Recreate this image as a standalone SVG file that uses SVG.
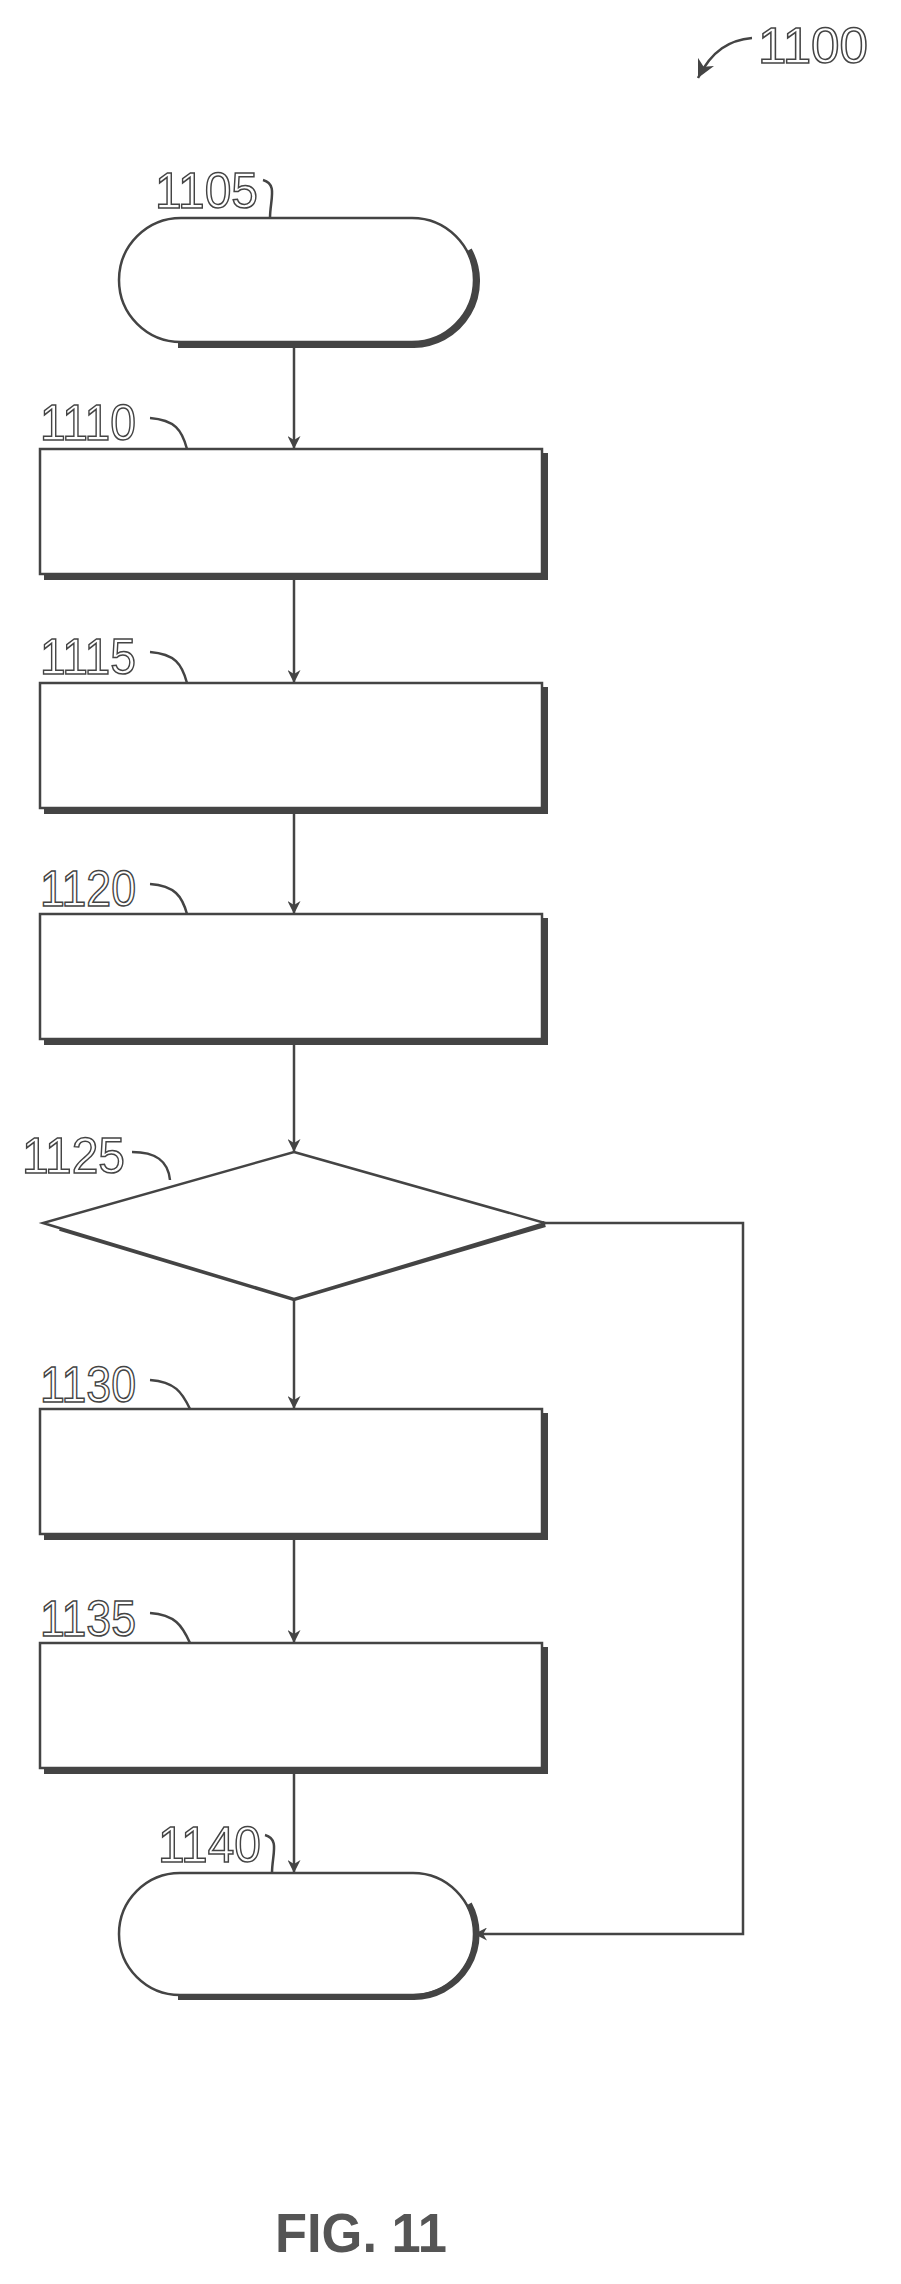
<svg xmlns="http://www.w3.org/2000/svg" width="901" height="2284" viewBox="0 0 901 2284">
<style>
.s{fill:#fff;stroke:#444;stroke-width:2.5}
.sh{fill:none;stroke:#444;stroke-width:6}
.c{fill:none;stroke:#444;stroke-width:2.5}
.t{font-family:"Liberation Sans",Arial,sans-serif;font-size:50px;fill:#fff;stroke:#444;stroke-width:1.5}
.f{font-family:"Liberation Sans",Arial,sans-serif;font-size:56px;font-weight:bold;fill:#555}
</style>
<defs>
<marker id="a" viewBox="0 0 10 10" refX="10" refY="5" markerWidth="13" markerHeight="13" orient="auto" markerUnits="userSpaceOnUse"><path d="M0,0L10,5L0,10L3,5Z" fill="#444"/></marker>
<marker id="b" viewBox="0 0 10 10" refX="10" refY="5" markerWidth="18" markerHeight="18" orient="auto" markerUnits="userSpaceOnUse"><path d="M0,0L10,5L0,10L3,5Z" fill="#444"/></marker>
</defs>
<rect width="901" height="2284" fill="#fff"/>
<g id="ref1100"><text class="t" x="758" y="63" textLength="110" lengthAdjust="spacingAndGlyphs">1100</text><path class="c" d="M752,38 C730,40 712,50 698,78" marker-end="url(#b)"/></g>
<g id="n1105"><rect class="s" x="119" y="218" width="355" height="124" rx="62"/><path class="sh" d="M469,250 A64,64 0 0 1 414,345 L178,345"/><text class="t" x="155" y="208" textLength="103" lengthAdjust="spacingAndGlyphs">1105</text><path class="c" d="M263,180 C278,184 270,200 270,218"/></g>
<g id="n1110"><path class="sh" d="M545,453 L545,577 L44,577"/><rect class="s" x="40" y="449" width="502" height="125"/><text class="t" x="40" y="440" textLength="96" lengthAdjust="spacingAndGlyphs">1110</text><path class="c" d="M150,418 C175,420 182,430 187,449"/></g>
<g id="n1115"><path class="sh" d="M545,687 L545,811 L44,811"/><rect class="s" x="40" y="683" width="502" height="125"/><text class="t" x="40" y="674" textLength="96" lengthAdjust="spacingAndGlyphs">1115</text><path class="c" d="M150,652 C175,654 182,664 187,683"/></g>
<g id="n1120"><path class="sh" d="M545,918 L545,1042 L44,1042"/><rect class="s" x="40" y="914" width="502" height="125"/><text class="t" x="40" y="906" textLength="96" lengthAdjust="spacingAndGlyphs">1120</text><path class="c" d="M150,884 C175,886 182,896 187,914"/></g>
<g id="n1125"><path class="sh" d="M545,1224 L294,1298 L60,1228"/><polygon class="s" points="294,1152 545,1223 294,1299 43,1223"/><text class="t" x="22" y="1173" textLength="103" lengthAdjust="spacingAndGlyphs">1125</text><path class="c" d="M132,1152 C155,1152 168,1160 170,1180"/></g>
<g id="n1130"><path class="sh" d="M545,1413 L545,1537 L44,1537"/><rect class="s" x="40" y="1409" width="502" height="125"/><text class="t" x="40" y="1402" textLength="96" lengthAdjust="spacingAndGlyphs">1130</text><path class="c" d="M150,1380 C175,1382 182,1392 190,1409"/></g>
<g id="n1135"><path class="sh" d="M545,1647 L545,1771 L44,1771"/><rect class="s" x="40" y="1643" width="502" height="125"/><text class="t" x="40" y="1636" textLength="96" lengthAdjust="spacingAndGlyphs">1135</text><path class="c" d="M150,1613 C175,1615 182,1625 190,1643"/></g>
<g id="n1140"><rect class="s" x="119" y="1873" width="355" height="122" rx="61"/><path class="sh" d="M469,1904 A63,63 0 0 1 414,1997 L178,1997"/><text class="t" x="158" y="1862" textLength="103" lengthAdjust="spacingAndGlyphs">1140</text><path class="c" d="M265,1835 C280,1839 272,1855 272,1873"/></g>
<g id="connectors">
<path class="c" d="M294,342 L294,449" marker-end="url(#a)"/>
<path class="c" d="M294,577 L294,683" marker-end="url(#a)"/>
<path class="c" d="M294,811 L294,914" marker-end="url(#a)"/>
<path class="c" d="M294,1042 L294,1152" marker-end="url(#a)"/>
<path class="c" d="M294,1299 L294,1409" marker-end="url(#a)"/>
<path class="c" d="M294,1537 L294,1643" marker-end="url(#a)"/>
<path class="c" d="M294,1771 L294,1873" marker-end="url(#a)"/>
<path class="c" d="M545,1223 L743,1223 L743,1934 L474,1934" marker-end="url(#a)"/>
</g>
<text class="f" x="275" y="2252" textLength="172" lengthAdjust="spacingAndGlyphs">FIG. 11</text>
</svg>
